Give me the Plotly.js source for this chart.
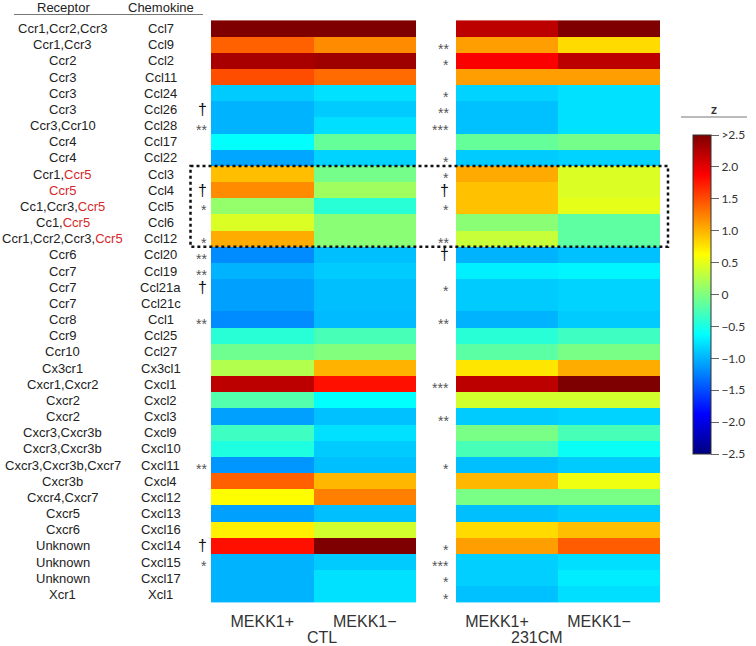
<!DOCTYPE html>
<html>
<head>
<meta charset="utf-8">
<script src="https://cdn.plot.ly/plotly-3.0.1.min.js"></script>
<style>html,body{margin:0;padding:0;background:#fff;}#chart{width:756px;height:646px;}</style>
</head>
<body>
<div id="chart"></div>
<script>
// ---- data ----
const receptors = ['Ccr1,Ccr2,Ccr3','Ccr1,Ccr3','Ccr2','Ccr3','Ccr3','Ccr3','Ccr3,Ccr10','Ccr4','Ccr4',
  'Ccr1,Ccr5','Ccr5','Cc1,Ccr3,Ccr5','Cc1,Ccr5','Ccr1,Ccr2,Ccr3,Ccr5','Ccr6','Ccr7','Ccr7','Ccr7','Ccr8','Ccr9','Ccr10',
  'Cx3cr1','Cxcr1,Cxcr2','Cxcr2','Cxcr2','Cxcr3,Cxcr3b','Cxcr3,Cxcr3b','Cxcr3,Cxcr3b,Cxcr7','Cxcr3b','Cxcr4,Cxcr7',
  'Cxcr5','Cxcr6','Unknown','Unknown','Unknown','Xcr1'];
const chemokines = ['Ccl7','Ccl9','Ccl2','Ccl11','Ccl24','Ccl26','Ccl28','Ccl17','Ccl22','Ccl3','Ccl4','Ccl5','Ccl6','Ccl12',
  'Ccl20','Ccl19','Ccl21a','Ccl21c','Ccl1','Ccl25','Ccl27','Cx3cl1','Cxcl1','Cxcl2','Cxcl3','Cxcl9','Cxcl10','Cxcl11',
  'Cxcl4','Cxcl12','Cxcl13','Cxcl16','Cxcl14','Cxcl15','Cxcl17','Xcl1'];
const columns = ['MEKK1+','MEKK1\u2212'];
const groups = ['CTL','231CM'];
const ctlPlus  = [2.6,1.4,2.3,1.5,-0.88,-1.0,-1.0,-0.62,-1.06,0.94,1.19,0.1,0.45,1.03,-1.19,-1.0,-1.09,-1.09,-1.19,-0.43,-0.08,0.25,2.2,-0.22,-1.09,-0.32,-0.48,-1.14,1.4,0.63,-1.09,0.7,1.8,-1.0,-1.0,-1.0];
const ctlMinus = [2.6,1.19,2.35,1.35,-0.77,-0.88,-0.78,-0.13,-0.84,-0.05,0.16,-0.43,0.05,0.05,-0.94,-0.88,-0.94,-0.94,-0.96,-0.27,0.01,1.0,1.8,-0.62,-0.93,-0.77,-0.88,-0.94,0.98,1.25,-0.94,0.4,2.6,-0.88,-0.77,-0.77];
const cmPlus   = [2.2,1.1,1.9,1.1,-0.84,-0.93,-0.93,-0.13,-0.88,1.04,0.93,0.93,0.05,0.35,-1.0,-0.7,-0.88,-0.88,-1.0,-0.43,-0.18,0.75,2.2,0.4,-0.88,-0.03,-0.27,-0.94,0.98,-0.03,-0.94,0.8,1.1,-0.86,-0.86,-0.93];
const cmMinus  = [2.6,0.8,2.2,1.1,-0.77,-0.77,-0.77,-0.05,-0.84,0.45,0.45,0.5,-0.17,-0.17,-0.93,-0.67,-0.84,-0.84,-0.88,-0.32,-0.03,1.03,2.6,0.4,-0.84,-0.27,-0.58,-0.88,0.55,-0.03,-0.88,0.94,1.43,-0.78,-0.72,-0.78];
const sigCTL = ['','','','','','\u2020','**','','','','\u2020','*','','*','**','**','\u2020','','**','','','','','','','','','**','','','','','\u2020','*','',''];
const sig231 = ['','**','*','','*','**','***','','*','*','\u2020','*','','**','\u2020','','*','','**','','','','***','','**','','','*','','','','','*','***','*','*'];
const boxedRows = ['Ccl3','Ccl12'];
const highlight = 'Ccr5';
const cbTickVals = [-2.5,-2,-1.5,-1,-0.5,0,0.5,1,1.5,2,2.5];
const cbTickText = ['\u22122.5','\u22122.0','\u22121.5','\u22121.0','\u22120.5','0','0.5','1.0','1.5','2.0','>2.5'];

// ---- build ----
const W = 756, H = 646;
const px = v => v / W;
const py = v => 1 - v / H;
const jet = [[0,'#00007F'],[0.125,'#0000FF'],[0.375,'#00FFFF'],[0.625,'#FFFF00'],[0.875,'#FF0000'],[1,'#7F0000']];
const zCTL = ctlPlus.map((v,i)=>[v, ctlMinus[i]]);
const zCM = cmPlus.map((v,i)=>[v, cmMinus[i]]);
const FONT = 'Liberation Sans, Arial, sans-serif';

const traces = [
  {type:'heatmap', x:columns, y:chemokines, z:zCTL, xaxis:'x', yaxis:'y', colorscale:jet, zmin:-2.5, zmax:2.5,
   showscale:false, hoverinfo:'skip'},
  {type:'heatmap', x:columns, y:chemokines, z:zCM, xaxis:'x2', yaxis:'y', colorscale:jet, zmin:-2.5, zmax:2.5,
   showscale:true, hoverinfo:'skip',
   colorbar:{x:px(693), xanchor:'left', xpad:0, ypad:0, y:py(294.5), yanchor:'middle',
     thickness:18, thicknessmode:'pixels', len:319, lenmode:'pixels',
     outlinewidth:1, outlinecolor:'#333', ticks:'outside', ticklen:8, tickcolor:'#666', tickwidth:1,
     tickvals:cbTickVals, ticktext:cbTickText, tickfont:{family:'Lato, sans-serif', size:12, color:'#333'}}}
];

const annotations = [];
receptors.forEach((r,i)=>{
  const txt = r.split(',').map(p => p===highlight ? '<span style="color:#d62728">'+p+'</span>' : p).join(',');
  annotations.push({xref:'paper', yref:'y', x:px(62.5), y:chemokines[i], text:txt, showarrow:false,
    xanchor:'center', yanchor:'middle', font:{family:FONT, size:13, color:'#222'}});
  annotations.push({xref:'paper', yref:'y', x:px(160.5), y:chemokines[i], text:chemokines[i], showarrow:false,
    xanchor:'center', yanchor:'middle', font:{family:FONT, size:13, color:'#222'}});
});
function addSig(arr, xr){
  arr.forEach((s,i)=>{
    if(!s) return;
    const dag = s==='\u2020';
    annotations.push({xref:'paper', yref:'y', x:px(xr), y:chemokines[i], text:s, showarrow:false,
      xanchor:'right', yanchor:'middle', yshift: dag?0:-4,
      font:{family:FONT, size: dag?16:14, color: dag?'#111':'#555'}});
  });
}
addSig(sigCTL, 209);
addSig(sig231, 451);
annotations.push({xref:'paper', yref:'paper', x:px(63), y:py(7.5), text:'Receptor', showarrow:false,
  xanchor:'center', yanchor:'middle', font:{family:FONT, size:13, color:'#222'}});
annotations.push({xref:'paper', yref:'paper', x:px(161), y:py(7.5), text:'Chemokine', showarrow:false,
  xanchor:'center', yanchor:'middle', font:{family:FONT, size:13, color:'#222'}});
annotations.push({xref:'paper', yref:'paper', x:px(322), y:py(637), text:groups[0], showarrow:false,
  xanchor:'center', yanchor:'middle', font:{family:FONT, size:16, color:'#333'}});
annotations.push({xref:'paper', yref:'paper', x:px(537), y:py(637), text:groups[1], showarrow:false,
  xanchor:'center', yanchor:'middle', font:{family:FONT, size:16, color:'#333'}});
annotations.push({xref:'paper', yref:'paper', x:px(714), y:py(109), text:'<b>z</b>', showarrow:false,
  xanchor:'center', yanchor:'middle', font:{family:'Lato, sans-serif', size:13, color:'#333'}});

const i0 = chemokines.indexOf(boxedRows[0]), i1 = chemokines.indexOf(boxedRows[1]);
const shapes = [
  {type:'line', xref:'paper', yref:'paper', x0:px(14), x1:px(203), y0:py(14.5), y1:py(14.5), line:{color:'#777', width:1}},
  {type:'line', xref:'paper', yref:'paper', x0:px(681), x1:px(747), y0:py(117), y1:py(117), line:{color:'#777', width:1}},
  {type:'rect', xref:'paper', yref:'y', x0:px(190.5), x1:px(668), y0:i0-0.5, y1:i1+0.5,
   line:{color:'#111', width:2.5, dash:'dot'}, layer:'above'}
];

const axCommon = {type:'category', showgrid:false, zeroline:false, showline:false, ticks:'',
  tickfont:{family:FONT, size:16, color:'#333'}, anchor:'y', fixedrange:true, ticklabelstandoff:6};
const layout = {
  width:W, height:H, margin:{l:0,r:0,t:0,b:0}, paper_bgcolor:'#fff', plot_bgcolor:'#fff',
  showlegend:false,
  xaxis: Object.assign({}, axCommon, {domain:[px(211), px(416)]}),
  xaxis2: Object.assign({}, axCommon, {domain:[px(456), px(660)], ticklabelshift:-10}),
  yaxis: {type:'category', domain:[py(604), py(19)], autorange:'reversed', showticklabels:false,
    showgrid:false, zeroline:false, ticks:'', fixedrange:true},
  annotations, shapes
};
Plotly.newPlot('chart', traces, layout, {displayModeBar:false, staticPlot:true});
</script>
</body>
</html>
